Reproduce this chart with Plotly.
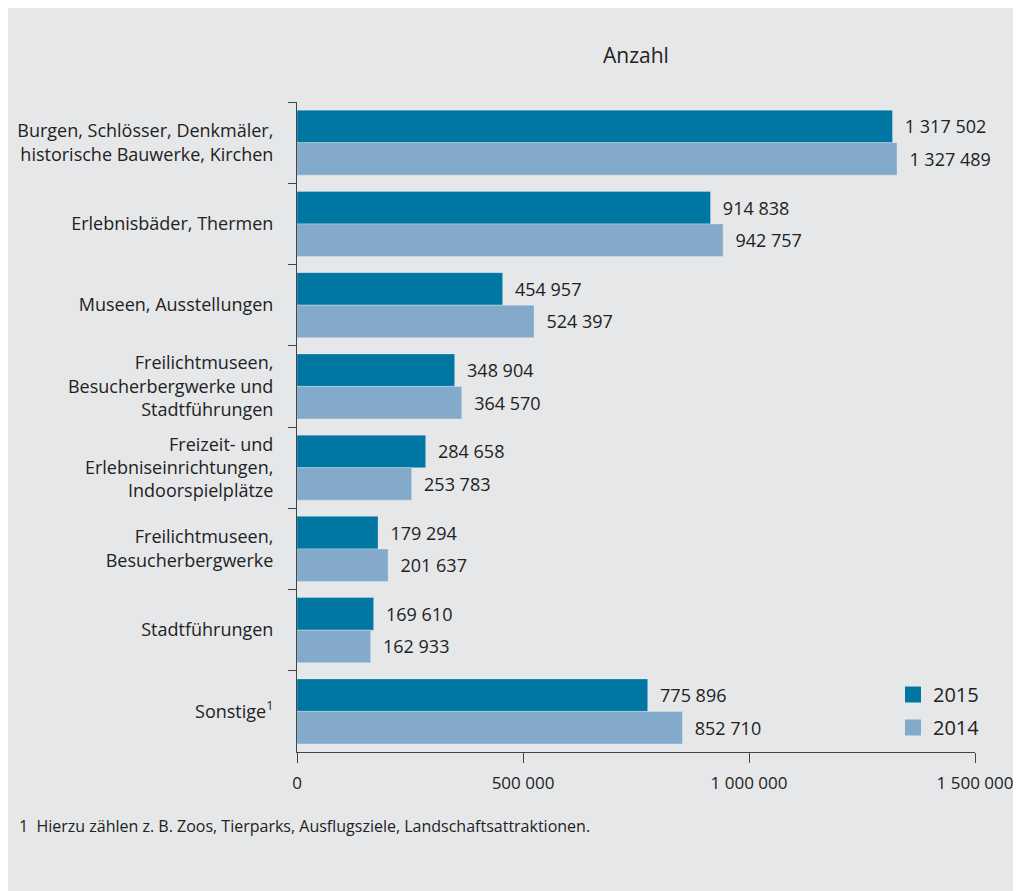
import plotly.graph_objects as go

categories = [
    "Burgen, Schlösser, Denkmäler,<br>historische Bauwerke, Kirchen",
    "Erlebnisbäder, Thermen",
    "Museen, Ausstellungen",
    "Freilichtmuseen,<br>Besucherbergwerke und<br>Stadtführungen",
    "Freizeit- und<br>Erlebniseinrichtungen,<br>Indoorspielplätze",
    "Freilichtmuseen,<br>Besucherbergwerke",
    "Stadtführungen",
    "Sonstige<sup>1</sup>",
]
values_2015 = [1317502, 914838, 454957, 348904, 284658, 179294, 169610, 775896]
values_2014 = [1327489, 942757, 524397, 364570, 253783, 201637, 162933, 852710]
x_tickvals = [0, 500000, 1000000, 1500000]

title_text = "Anzahl"
footnote = "1  Hierzu zählen z. B. Zoos, Tierparks, Ausflugsziele, Landschaftsattraktionen."

C2015 = "#0076a3"
C2014 = "#84aacb"
BG = "#e6e7e9"
TXT = "#222222"
AX = "#444444"
FONT = "Open Sans"

# page body has an 8px margin: figure coordinates = reference pixels - 8
OFF = 8
W, H = 1021 - OFF, 891 - OFF
ML, MR, MT, MB = 297 - OFF, 46, 102 - OFF, 139
PW = W - ML - MR
PH = H - MT - MB

def px_x(p):
    return (p - OFF - ML) / PW

def px_y(p):
    return (H - MB - (p - OFF)) / PH

fig = go.Figure()
for name, vals, col in [("2015", values_2015, C2015), ("2014", values_2014, C2014)]:
    fig.add_trace(go.Bar(
        name=name, orientation="h", x=vals, y=categories,
        marker=dict(color=col, line=dict(width=0.8, color="rgba(255,255,255,0.35)")),
        texttemplate="\u00a0\u00a0%{x:,d}", textposition="outside",
        textfont=dict(family=FONT, size=18, color=TXT),
        constraintext="none", cliponaxis=False,
        legendgroup=name, showlegend=False, hoverinfo="x+y",
    ))
for name, col in [("2015", C2015), ("2014", C2014)]:
    fig.add_trace(go.Scatter(
        name=name, x=[None], y=[None], mode="markers",
        marker=dict(symbol="square", size=17, color=col),
        legendgroup=name, showlegend=True, hoverinfo="skip",
    ))

fig.add_annotation(text=title_text, xref="paper", yref="paper",
                   x=0.5, y=px_y(55), xanchor="center", yanchor="middle",
                   showarrow=False, font=dict(family=FONT, size=21, color=TXT))
fig.add_annotation(text=footnote, xref="paper", yref="paper",
                   x=px_x(17), y=px_y(826), xanchor="left", yanchor="middle",
                   showarrow=False, font=dict(family=FONT, size=16, color=TXT))

fig.update_layout(
    width=W, height=H, template="none",
    margin=dict(l=ML, r=MR, t=MT, b=MB, pad=0),
    paper_bgcolor=BG, plot_bgcolor=BG,
    separators=", ",
    barmode="group", bargap=0.2, bargroupgap=0.0,
    font=dict(family=FONT, size=18, color=TXT),
    showlegend=True,
    legend=dict(x=px_x(893), y=px_y(675), xanchor="left", yanchor="top",
                bgcolor="rgba(0,0,0,0)", traceorder="grouped", itemsizing="trace",
                tracegroupgap=4, font=dict(family=FONT, size=20, color=TXT)),
    xaxis=dict(range=[0, 1500000], tickvals=x_tickvals, tickformat=",d",
               showgrid=False, zeroline=False, showline=True, linecolor=AX,
               linewidth=1, ticks="outside", ticklen=10, tickcolor=AX,
               ticklabelstandoff=6,
               tickfont=dict(family=FONT, size=17, color=TXT), automargin=False),
    yaxis=dict(autorange="reversed", tickson="boundaries", showgrid=False,
               zeroline=False, showline=True, linecolor=AX, linewidth=1,
               ticks="outside", ticklen=8, tickcolor=AX, ticklabelstandoff=19,
               tickfont=dict(family=FONT, size=18, color=TXT), automargin=False),
)

fig.write_html("out.html")
